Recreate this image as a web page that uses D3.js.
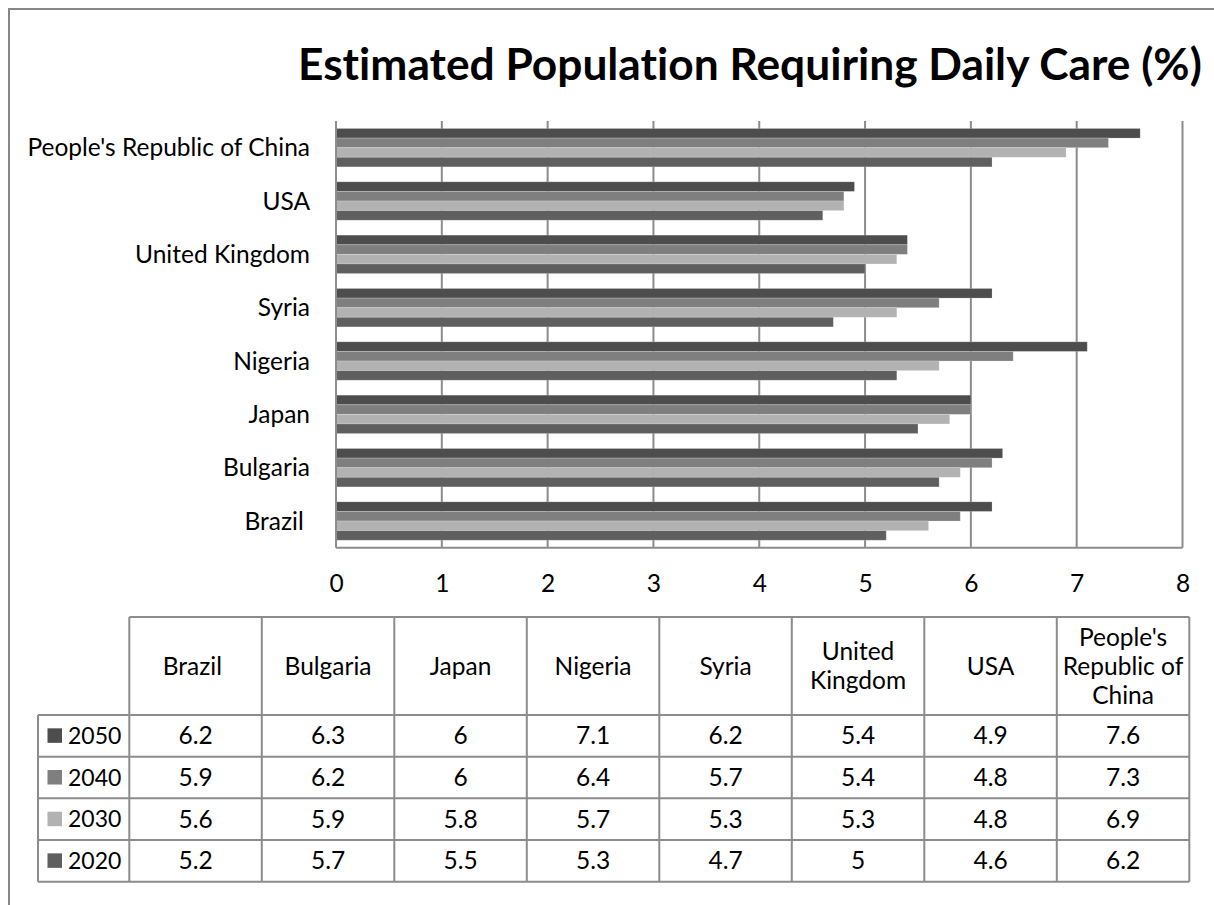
<!DOCTYPE html>
<html>
<head>
<meta charset="utf-8">
<script src="https://cdn.jsdelivr.net/npm/d3@7"></script>
<style>
  body { margin: 0; background: #fff; }
  svg text { font-family: Lato, "Open Sans", sans-serif; fill: #000; white-space: pre; font-variant-ligatures: none; }
</style>
</head>
<body>
<svg id="chart" width="1214" height="905"></svg>
<script>

// chart values, bottom category first (as in the source table)
var categories = ["Brazil ", "Bulgaria", "Japan", "Nigeria", "Syria", "United Kingdom", "USA", "People's Republic of China"];
var headerLines = [["Brazil "], ["Bulgaria"], ["Japan"], ["Nigeria"], ["Syria"], ["United", "Kingdom"], ["USA"], ["People's", "Republic of", "China"]];
var years = ["2050", "2040", "2030", "2020"];
var v2050 = [6.2, 6.3, 6, 7.1, 6.2, 5.4, 4.9, 7.6];
var v2040 = [5.9, 6.2, 6, 6.4, 5.7, 5.4, 4.8, 7.3];
var v2030 = [5.6, 5.9, 5.8, 5.7, 5.3, 5.3, 4.8, 6.9];
var v2020 = [5.2, 5.7, 5.5, 5.3, 4.7, 5, 4.6, 6.2];
var xTicks = [0, 1, 2, 3, 4, 5, 6, 7, 8];
var title = "Estimated Population Requiring Daily Care (%)";

var series = {"2050": v2050, "2040": v2040, "2030": v2030, "2020": v2020};
var colors = {"2050": "#4d4d4d", "2040": "#7f7f7f", "2030": "#b2b2b2", "2020": "#5f5f5f"};

var svg = d3.select("#chart");
var gridColor = "#8c8c8c";
var fs = 24.5;

// outer frame (runs off the right / bottom edge)
svg.append("rect")
    .attr("x", 9).attr("y", 9)
    .attr("width", 1400).attr("height", 1200)
    .attr("fill", "none")
    .attr("stroke", "#878787")
    .attr("stroke-width", 2);

// title, fitted to the width of the original
var t = svg.append("text")
    .attr("x", 298).attr("y", 80)
    .attr("font-weight", "bold")
    .attr("font-size", 40)
    .text(title);
var tw = t.node().getComputedTextLength();
t.attr("font-size", 40 * 904 / tw);

var plot = {left: 336, right: 1182.5, top: 121, bottom: 547.7};

var x = d3.scaleLinear()
    .domain([0, 8])
    .range([plot.left, plot.right]);

var y = d3.scaleBand()
    .domain(categories.slice().reverse())
    .range([plot.top, plot.bottom]);

var yInner = d3.scaleBand()
    .domain(years)
    .range([y.bandwidth() * 0.14, y.bandwidth() * 0.86]);

// gridlines
svg.append("g")
  .selectAll("line")
  .data(xTicks.slice(1))
  .enter().append("line")
    .attr("x1", function(d) { return x(d); })
    .attr("x2", function(d) { return x(d); })
    .attr("y1", plot.top)
    .attr("y2", plot.bottom)
    .attr("stroke", gridColor)
    .attr("stroke-width", 2);

// bars
var groups = svg.append("g")
  .selectAll("g")
  .data(categories)
  .enter().append("g")
    .attr("transform", function(d) { return "translate(0," + y(d) + ")"; });

groups.selectAll("rect")
    .data(function(c, i) { return years.map(function(yr) { return {year: yr, value: series[yr][i]}; }); })
  .enter().append("rect")
    .attr("x", x(0))
    .attr("y", function(d) { return yInner(d.year); })
    .attr("width", function(d) { return x(d.value) - x(0); })
    .attr("height", yInner.bandwidth())
    .attr("fill", function(d) { return colors[d.year]; })
    .attr("stroke", "rgba(255,255,255,0.25)")
    .attr("stroke-width", 0.8);

// axis lines
svg.append("line")
    .attr("x1", plot.left).attr("x2", plot.left)
    .attr("y1", plot.top).attr("y2", plot.bottom)
    .attr("stroke", gridColor).attr("stroke-width", 2);
svg.append("line")
    .attr("x1", plot.left).attr("x2", plot.right)
    .attr("y1", plot.bottom).attr("y2", plot.bottom)
    .attr("stroke", gridColor).attr("stroke-width", 2);

// category axis
var yAxis = svg.append("g")
    .attr("transform", "translate(" + plot.left + ",0)")
    .call(d3.axisLeft(y).tickSize(0).tickPadding(26));
yAxis.select(".domain").remove();
yAxis.selectAll("text")
    .attr("font-size", fs)
    .attr("font-family", null)
    .attr("dy", "0.35em");

// value axis
var xAxis = svg.append("g")
    .attr("transform", "translate(0," + plot.bottom + ")")
    .call(d3.axisBottom(x).tickValues(xTicks).tickSize(0).tickPadding(27).tickFormat(d3.format("d")));
xAxis.select(".domain").remove();
xAxis.selectAll("text")
    .attr("font-size", fs)
    .attr("font-family", null);

// data table
var tbl = {left: 38, colLeft: 129.3, right: 1189.3, top: 617, headBottom: 715, bottom: 881.7};

var col = d3.scaleBand()
    .domain(categories)
    .range([tbl.colLeft, tbl.right]);

var row = d3.scaleBand()
    .domain(years)
    .range([tbl.headBottom, tbl.bottom]);

var tg = svg.append("g");

// horizontal lines
tg.append("line")
    .attr("x1", tbl.colLeft).attr("x2", tbl.right)
    .attr("y1", tbl.top).attr("y2", tbl.top);
tg.selectAll("line.h")
    .data(years.concat(["end"]))
  .enter().append("line")
    .attr("class", "h")
    .attr("x1", tbl.left).attr("x2", tbl.right)
    .attr("y1", function(d) { return d === "end" ? tbl.bottom : row(d); })
    .attr("y2", function(d) { return d === "end" ? tbl.bottom : row(d); });

// vertical lines
tg.append("line")
    .attr("x1", tbl.left).attr("x2", tbl.left)
    .attr("y1", tbl.headBottom).attr("y2", tbl.bottom);
tg.selectAll("line.v")
    .data(categories.concat(["end"]))
  .enter().append("line")
    .attr("class", "v")
    .attr("x1", function(d) { return d === "end" ? tbl.right : col(d); })
    .attr("x2", function(d) { return d === "end" ? tbl.right : col(d); })
    .attr("y1", tbl.top).attr("y2", tbl.bottom);

tg.selectAll("line")
    .attr("stroke", gridColor)
    .attr("stroke-width", 2);

// header labels
var lineH = 29;
tg.selectAll("text.head")
    .data(categories)
  .enter().append("text")
    .attr("class", "head")
    .attr("text-anchor", "middle")
    .attr("font-size", fs)
    .each(function(d, i) {
      var lines = headerLines[i];
      var cy = (tbl.top + tbl.headBottom) / 2 - (lines.length - 1) * lineH / 2;
      var el = d3.select(this);
      lines.forEach(function(l, j) {
        el.append("tspan")
          .attr("x", col(d) + col.bandwidth() / 2)
          .attr("y", cy + j * lineH)
          .attr("dy", "0.35em")
          .text(l);
      });
    });

// legend keys and values
years.forEach(function(yr) {
  var cy = row(yr) + row.bandwidth() / 2;
  tg.append("rect")
      .attr("x", 47.5).attr("y", cy - 7.5)
      .attr("width", 14.5).attr("height", 14.5)
      .attr("fill", colors[yr]);
  tg.append("text")
      .attr("x", 68)
      .attr("y", cy)
      .attr("dy", "0.35em")
      .attr("font-size", 23)
      .text(yr);
  tg.selectAll(null)
      .data(categories)
    .enter().append("text")
      .attr("x", function(d) { return col(d) + col.bandwidth() / 2; })
      .attr("y", cy)
      .attr("dy", "0.35em")
      .attr("text-anchor", "middle")
      .attr("font-size", fs)
      .text(function(d, i) { return series[yr][i]; });
});

</script>
</body>
</html>
